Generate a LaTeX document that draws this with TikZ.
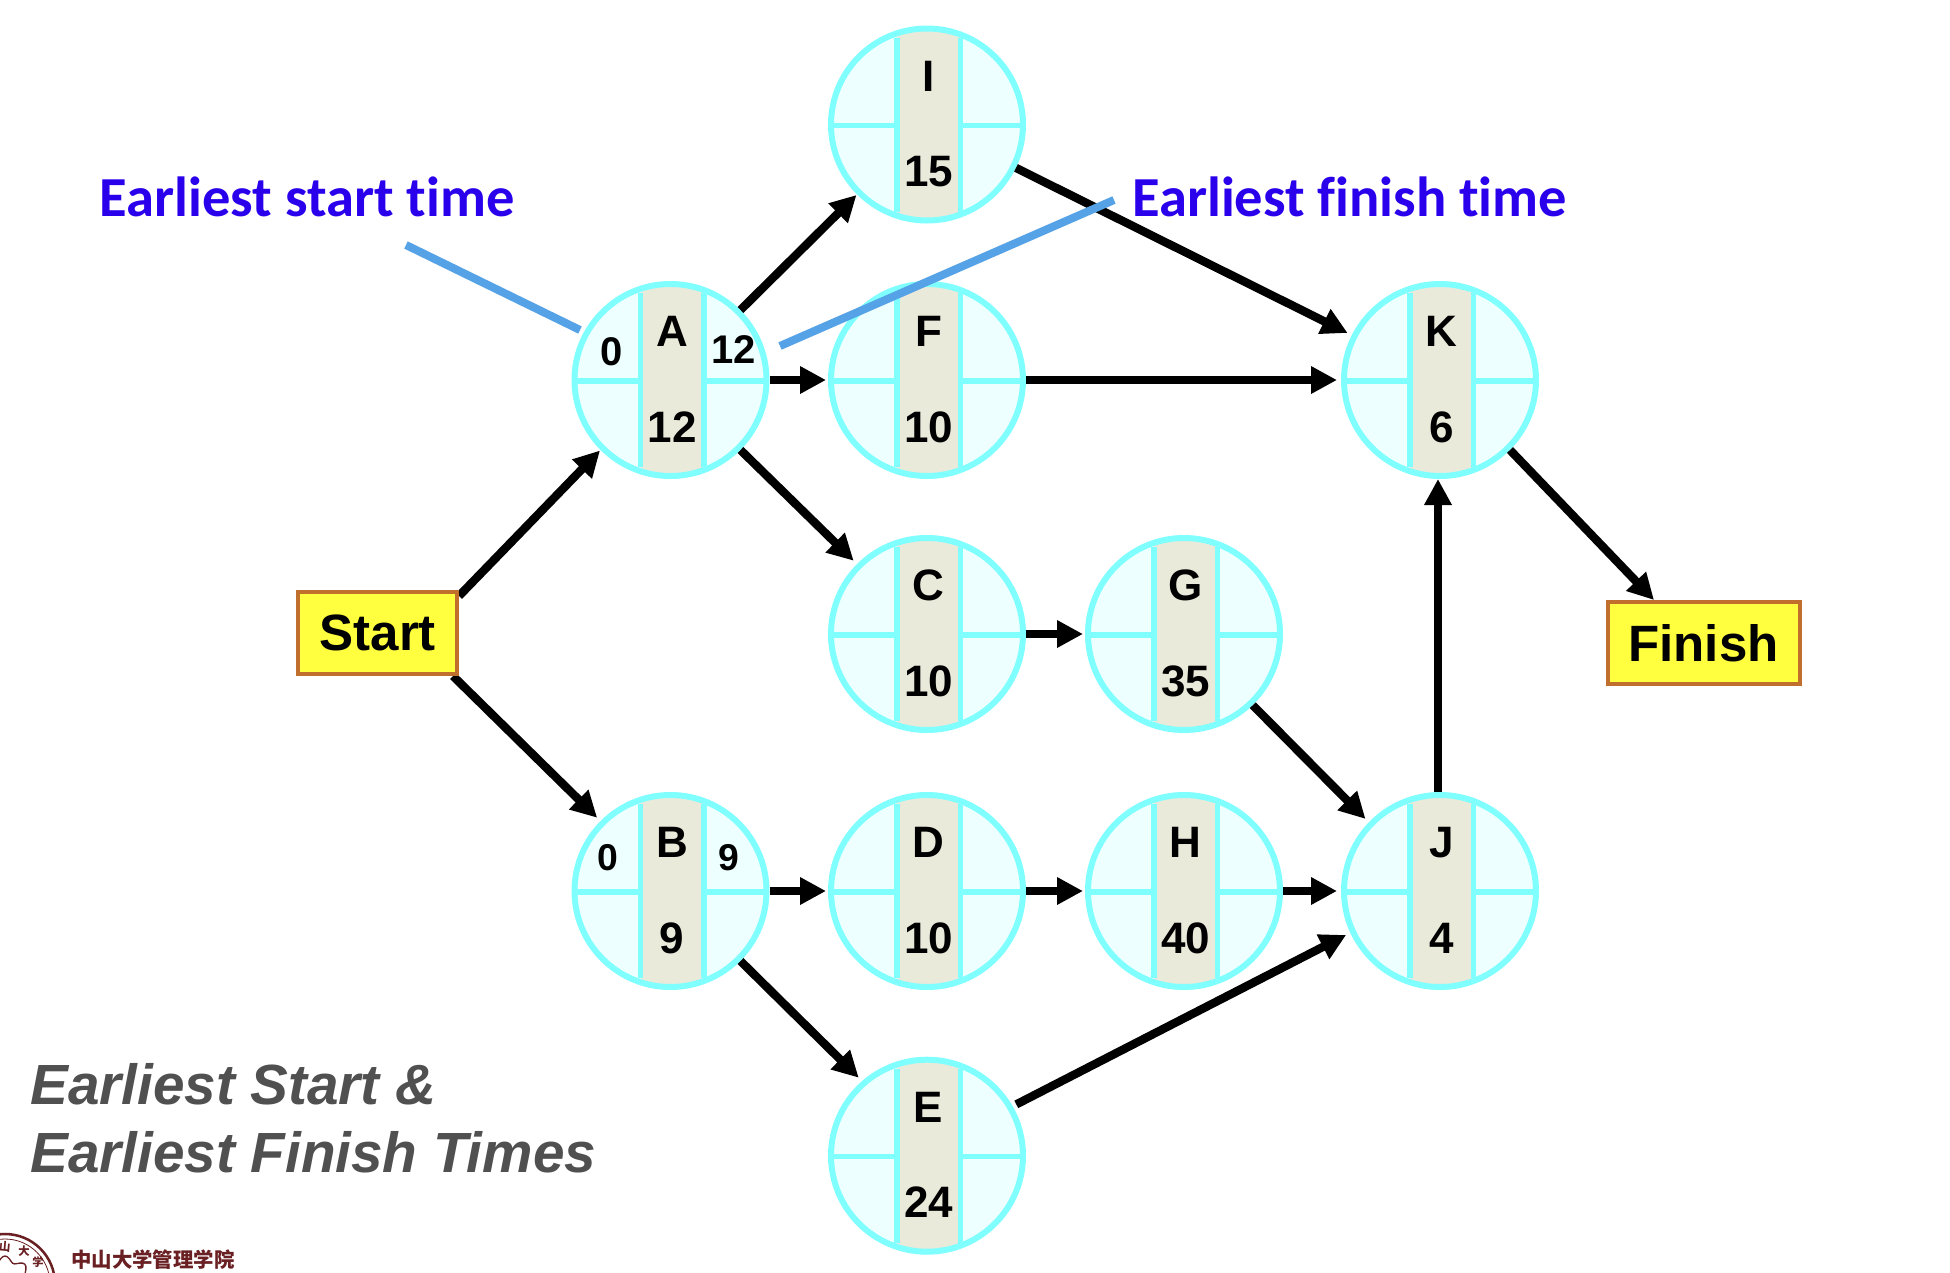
\documentclass[tikz,border=0pt]{standalone}
\usepackage{fontspec}
\setmainfont{Liberation Sans}
\newfontfamily\calfont[Ligatures=NoCommon]{Carlito}
\newfontfamily\cjkfont{Noto Sans CJK SC}
\usetikzlibrary{arrows.meta,backgrounds}
\definecolor{ringc}{HTML}{80FFFF}
\definecolor{cellc}{HTML}{EEFFFF}
\definecolor{bandc}{HTML}{EAEADB}
\definecolor{boxedge}{HTML}{C0702C}
\definecolor{boxfill}{HTML}{FFFF40}
\definecolor{bluetext}{HTML}{2A00EC}
\definecolor{leader}{HTML}{55A2E6}
\definecolor{greytext}{HTML}{505050}
\definecolor{sealc}{HTML}{6A1F22}
\tikzset{
  activity/.style={circle,draw=ringc,fill=cellc,line width=4.5pt,minimum size=144pt,inner sep=0pt,
    path picture={
      \begin{scope}[shift={(path picture bounding box.center)}]
        \fill[bandc] (-30,-110) rectangle (33.5,110);
        \draw[ringc,line width=4.1pt] (-110,1) -- (110,1);
        \fill[bandc] (-30,-20) rectangle (33.5,20);
        \draw[ringc,line width=4.1pt] (-30,-87) -- (-30,87);
        \draw[ringc,line width=4.1pt] (33.5,-87) -- (33.5,87);
      \end{scope}
    }},
  bigtxt/.style={anchor=base,inner sep=0pt,font=\fontsize{33}{33}\selectfont\bfseries},
  midtxt/.style={anchor=base,inner sep=0pt,font=\fontsize{30}{30}\selectfont\bfseries},
  smalltxt/.style={anchor=base,inner sep=0pt,font=\fontsize{28}{28}\selectfont\bfseries},
  endbox/.style={draw=boxedge,fill=boxfill,line width=3pt,inner sep=0pt,minimum height=61.5pt,
    font=\fontsize{38.3}{38.3}\selectfont\bfseries},
  link/.style={draw=black,line width=6.3pt,-{Triangle[length=19.5pt,width=19.5pt]},shorten >=3.5pt},
  flat/.style={link,shorten >=1.5pt},
  longflat/.style={link,shorten >=3pt},
  closelink/.style={link,shorten >=0.5pt},
  leaderline/.style={draw=leader,line width=6pt},
  bluelabel/.style={anchor=base west,inner sep=0pt,text=bluetext,font=\calfont\fontsize{42.4}{42.4}\selectfont\bfseries},
  greylabel/.style={anchor=base west,inner sep=0pt,text=greytext,font=\fontsize{42.5}{42.5}\selectfont\bfseries\itshape},
  seal/.style={draw=sealc},
  sealtxt/.style={inner sep=0pt,text=sealc,font=\cjkfont\fontsize{8.5}{8.5}\selectfont\bfseries},
  schooltxt/.style={anchor=base west,inner sep=0pt,text=sealc,font=\cjkfont\fontsize{15.3}{15.3}\selectfont\bfseries}
}
\newcommand{\activitynode}[5]{%
  \node[activity] (#1) at (#2,#3) {};
  \node[bigtxt] (#1name) at (#2+1.5,#3-33.3) {#4};
  \node[bigtxt] (#1dur) at (#2+1.5,#3+62) {#5};
}
\begin{document}
\begin{tikzpicture}[x=0.75pt,y=-0.75pt]
\useasboundingbox (0,0) rectangle (1950,1272);

\activitynode{I}{927}{124.5}{I}{15}
\activitynode{A}{670.5}{380}{A}{12}
\activitynode{F}{927}{380}{F}{10}
\activitynode{K}{1440}{380}{K}{6}
\activitynode{C}{927}{634}{C}{10}
\activitynode{G}{1184}{634}{G}{35}
\activitynode{B}{670.5}{891}{B}{9}
\activitynode{D}{927}{891}{D}{10}
\activitynode{H}{1184}{891}{H}{40}
\activitynode{J}{1440}{891}{J}{4}
\activitynode{E}{927}{1155.7}{E}{24}

\node[midtxt] (Aes) at (611.5,365.7) {0};
\node[midtxt] (Aef) at (733.5,363) {12};
\node[smalltxt] (Bes) at (608,870) {0};
\node[smalltxt] (Bef) at (729,870) {9};

\node[endbox,minimum width=119pt] (Start) at (377.8,632.5) {Start};
\node[endbox,minimum width=144pt] (Finish) at (1703.5,643) {Finish};
\coordinate (FinishIn) at (1654,600);
\coordinate (StartOut) at (459,596);
\coordinate (StartLow) at (453,676);

\begin{pgfonlayer}{background}
\fill[white] (0,0) rectangle (1950,1272);
\draw[closelink] (StartOut) -- (A.225);
\draw[link] (StartLow) -- (B.135);
\end{pgfonlayer}
\draw[closelink] (A.45) -- (I.225);
\draw[flat] (A.east) -- (F.west);
\draw[link] (A.-45) -- (C.135.5);
\draw[link] (I.-26) -- (K.153);
\draw[longflat] (F.east) -- (K.west);
\draw[flat] (C.east) -- (G.west);
\draw[link] (G.-46) -- (J.136);
\draw[flat] (B.east) -- (D.west);
\draw[flat] (D.east) -- (H.west);
\draw[longflat] (H.east) -- (J.west);
\draw[link] (B.-45) -- (E.131);
\draw[link,shorten <=3pt] (E.30) -- (J.205);
\draw[link,shorten >=0pt,transform canvas={xshift=-1.5pt}] (J.north) -- (K.south);
\draw[link,shorten >=0pt] (K.-45) -- (FinishIn);

\coordinate (LeadSa) at (406,245);
\coordinate (LeadSb) at (580,330);
\coordinate (LeadFa) at (780,346);
\coordinate (LeadFb) at (1114,200);
\draw[leaderline] (LeadSa) -- (LeadSb);
\draw[leaderline] (LeadFa) -- (LeadFb);

\node[bluelabel] (lblES) at (99.5,216) {Earliest start time};
\node[bluelabel] (lblEF) at (1132,216) {Earliest finish time};

\node[greylabel] (title1) at (30,1104) {Earliest Start \&};
\node[greylabel] (title2) at (30,1172) {Earliest Finish Times};

% school mark
\draw[seal,line width=1.9pt] (5,1284) circle (50);
\draw[seal,line width=0.6pt] (5,1284) circle (45);
\draw[seal,line width=1pt,domain=0:360,samples=73,smooth] plot ({5+(25+3*cos(8*\x))*cos(\x)},{1284+(25+3*cos(8*\x))*sin(\x)});
\node[sealtxt,rotate=-5] (sealA) at (5,1247) {山};
\node[sealtxt] (sealB) at (24,1251) {大};
\node[sealtxt] (sealC) at (38,1262) {学};
\node[schooltxt] (school) at (71,1267) {中山大学管理学院};
\end{tikzpicture}
\end{document}
